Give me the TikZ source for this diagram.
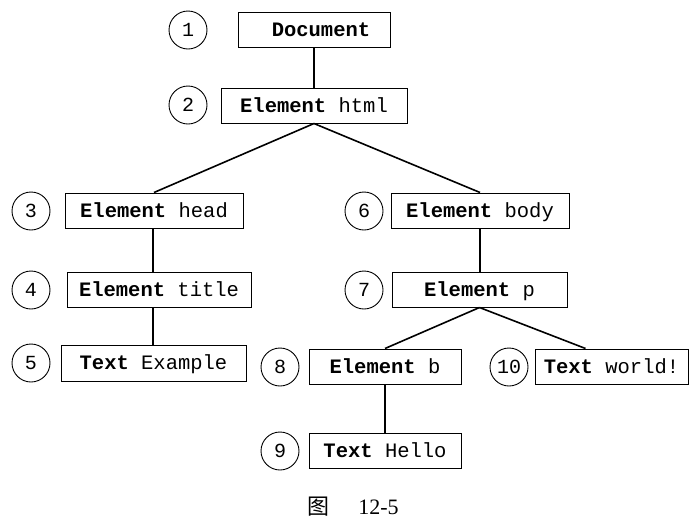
\documentclass[tikz,border=0pt]{standalone}
\usepackage{fontspec}
\setmainfont{Liberation Serif}
\setmonofont{Liberation Mono}
\newfontfamily\cjkfont{Noto Sans CJK SC}
\begin{document}
\begin{tikzpicture}[x=1pt,y=-1pt,
  box/.style={draw,line width=1pt,rectangle,minimum height=35pt,inner sep=0pt,text height=16pt,text depth=3pt,font=\fontsize{20.5}{20.5}\selectfont\ttfamily},
  num/.style={draw,line width=0.9pt,circle,minimum size=38pt,inner sep=0pt,font=\fontsize{20}{20}\selectfont\ttfamily},
  link/.style={line width=1.6pt}]
\useasboundingbox (0,0) rectangle (699,523);
% boxes
\node[box,minimum width=152pt] (doc) at (314,29.5) {\hspace*{14pt}\textbf{Document}};
\node[box,minimum width=186pt] (html) at (314,105.5) {\textbf{Element}\ html};
\node[box,minimum width=178pt] (head) at (154,210.5) {\textbf{Element}\ head};
\node[box,minimum width=178pt] (body) at (480,210.5) {\textbf{Element}\ body};
\node[box,minimum width=184pt] (title) at (159,289.5) {\textbf{Element}\ title};
\node[box,minimum width=175pt] (p) at (479.5,289.5) {\textbf{Element}\ p};
\node[box,minimum width=185pt,minimum height=36pt] (example) at (153.5,363) {\textbf{Text}\ Example};
\node[box,minimum width=152pt] (b) at (385,366.5) {\textbf{Element}\ b};
\node[box,minimum width=153pt] (world) at (611.5,366.5) {\textbf{Text}\ world!};
\node[box,minimum width=152pt] (hello) at (385,450.5) {\textbf{Text}\ Hello};
% numbers
\node[num] (n1) at (188,30) {1};
\node[num] (n2) at (188,105) {2};
\node[num] (n3) at (31,211) {3};
\node[num] (n4) at (31,290) {4};
\node[num] (n5) at (31,363) {5};
\node[num] (n6) at (364,211) {6};
\node[num] (n7) at (364,290) {7};
\node[num] (n8) at (280,367) {8};
\node[num] (n9) at (280,451) {9};
\node[num] (n10) at (509,367) {10};
% connectors
\draw[link] (doc.south) -- (html.north);
\draw[link] (html.south) -- (head.north);
\draw[link] (html.south) -- (body.north);
\draw[link] ([xshift=-1pt]head.south) -- ([xshift=-1pt]head.south |- title.north);
\draw[link] ([xshift=-1pt]head.south |- title.south) -- ([xshift=-1pt]head.south |- example.north);
\draw[link] (body.south) -- (body.south |- p.north);
\draw[link] (p.south) -- (b.north);
\draw[link] (p.south) -- ([xshift=-26pt]world.north);
\draw[link] (b.south) -- (hello.north);
% caption
\node[font=\fontsize{22}{22}\selectfont] (cap) at (353,507) {{\cjkfont 图}\hspace{29pt}12-5};
\end{tikzpicture}
\end{document}
